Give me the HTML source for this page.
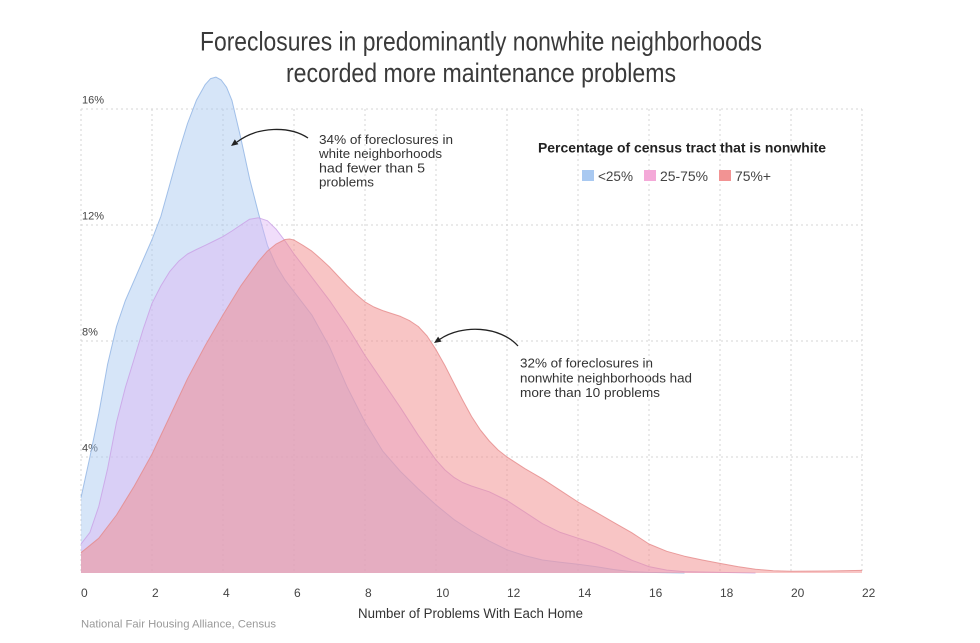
<!DOCTYPE html>
<html>
<head>
<meta charset="utf-8">
<style>
  html, body { margin: 0; padding: 0; background: #ffffff; }
  body { width: 980px; height: 643px; overflow: hidden; }
  svg { display: block; }
  text { font-family: "Liberation Sans", "DejaVu Sans", sans-serif; }
  .narrow { font-family: "Liberation Sans Narrow", "Liberation Sans", sans-serif; }
</style>
</head>
<body>
<svg width="980" height="643" viewBox="0 0 980 643" xmlns="http://www.w3.org/2000/svg">
  <rect x="0" y="0" width="980" height="643" fill="#ffffff"/>

  <!-- Title -->
  <text class="narrow" x="481" y="50.5" text-anchor="middle" font-size="27" fill="#3a3a3a" textLength="562" lengthAdjust="spacingAndGlyphs">Foreclosures in predominantly nonwhite neighborhoods</text>
  <text class="narrow" x="481" y="82" text-anchor="middle" font-size="27" fill="#3a3a3a" textLength="390" lengthAdjust="spacingAndGlyphs">recorded more maintenance problems</text>

  <!-- Grid -->
  <g stroke="#d6d6d6" stroke-width="1" stroke-dasharray="2 3" fill="none">
    <line x1="81" y1="109" x2="862" y2="109"/>
    <line x1="81" y1="225" x2="862" y2="225"/>
    <line x1="81" y1="341" x2="862" y2="341"/>
    <line x1="81" y1="457" x2="862" y2="457"/>
    <line x1="81" y1="109" x2="81" y2="573"/>
    <line x1="152" y1="109" x2="152" y2="573"/>
    <line x1="223" y1="109" x2="223" y2="573"/>
    <line x1="294" y1="109" x2="294" y2="573"/>
    <line x1="365" y1="109" x2="365" y2="573"/>
    <line x1="436" y1="109" x2="436" y2="573"/>
    <line x1="507" y1="109" x2="507" y2="573"/>
    <line x1="578" y1="109" x2="578" y2="573"/>
    <line x1="649" y1="109" x2="649" y2="573"/>
    <line x1="720" y1="109" x2="720" y2="573"/>
    <line x1="791" y1="109" x2="791" y2="573"/>
    <line x1="862" y1="109" x2="862" y2="573"/>
  </g>

  <!-- Y labels -->
  <g font-size="11" fill="#444">
    <text x="82" y="103.5">16%</text>
    <text x="82" y="219.5">12%</text>
    <text x="82" y="335.5">8%</text>
    <text x="82" y="451.5">4%</text>
  </g>

  <!-- Blue area (<25%) -->
  <path fill="#a8c8f0" fill-opacity="0.47" stroke="none"
    d="M81,573 L81,497.6 89.9,457 98.8,413.5 107.6,364.2 116.5,326.5 125.4,300.4 134.3,280.1 143.1,259.8 152,239.5 160.9,216.3 169.8,184.4 178.6,152.5 187.5,123.5 196.4,100.3 205.3,84.4 210.6,78.6 215.9,77.1 221.2,80 226.6,87.3 231.9,100.3 240.8,138 249.6,178.6 258.5,213.4 267.4,245.3 276.3,265.6 285.1,280.1 294,291.7 311.8,314.9 329.5,346.8 347.3,387.4 365,422.2 382.8,451.2 400.5,471.5 418.3,488.9 436,504.9 453.8,519.4 471.5,531 489.3,541.1 507,549.8 524.8,555.6 542.5,560 560.3,562.3 578,564.3 595.8,566.6 613.5,569.5 631.3,571.6 649,572.4 684.5,573 862,573 Z"/>
  <polyline fill="none" stroke="#8fb3e3" stroke-opacity="0.8" stroke-width="1" stroke-linejoin="round"
    points="81,497.6 89.9,457 98.8,413.5 107.6,364.2 116.5,326.5 125.4,300.4 134.3,280.1 143.1,259.8 152,239.5 160.9,216.3 169.8,184.4 178.6,152.5 187.5,123.5 196.4,100.3 205.3,84.4 210.6,78.6 215.9,77.1 221.2,80 226.6,87.3 231.9,100.3 240.8,138 249.6,178.6 258.5,213.4 267.4,245.3 276.3,265.6 285.1,280.1 294,291.7 311.8,314.9 329.5,346.8 347.3,387.4 365,422.2 382.8,451.2 400.5,471.5 418.3,488.9 436,504.9 453.8,519.4 471.5,531 489.3,541.1 507,549.8 524.8,555.6 542.5,560 560.3,562.3 578,564.3 595.8,566.6 613.5,569.5 631.3,571.6 649,572.4 684.5,573"/>

  <!-- Purple area (25-75%) -->
  <path fill="#deb3f3" fill-opacity="0.45" stroke="none"
    d="M81,573 L81,544 89.9,532.4 98.8,506.3 107.6,468.6 116.5,422.2 125.4,387.4 134.3,358.4 143.1,329.4 152,303.3 160.9,285.9 169.8,271.4 178.6,261.3 187.5,254 196.4,249.5 205.3,245.3 214.1,241 223,236.6 231.9,231 240.8,225 249.6,219.2 258.5,217.8 267.4,220.7 276.3,229.4 285.1,241 294,254 302.9,265.6 311.8,277.2 329.5,300.4 347.3,326.5 365,355.5 382.8,381.6 400.5,407.7 418.3,435.3 436,459.9 445,470 453.8,477.3 462.6,482.5 471.5,486 489.3,491.8 507,500.5 524.8,512.1 542.5,523.7 560.3,532.4 578,538.2 595.8,544 613.5,551.3 631.3,560 649,566.6 666.8,570.1 684.5,571.6 720,572.4 755.5,573 862,573 Z"/>
  <polyline fill="none" stroke="#c9a0e6" stroke-opacity="0.8" stroke-width="1" stroke-linejoin="round"
    points="81,544 89.9,532.4 98.8,506.3 107.6,468.6 116.5,422.2 125.4,387.4 134.3,358.4 143.1,329.4 152,303.3 160.9,285.9 169.8,271.4 178.6,261.3 187.5,254 196.4,249.5 205.3,245.3 214.1,241 223,236.6 231.9,231 240.8,225 249.6,219.2 258.5,217.8 267.4,220.7 276.3,229.4 285.1,241 294,254 302.9,265.6 311.8,277.2 329.5,300.4 347.3,326.5 365,355.5 382.8,381.6 400.5,407.7 418.3,435.3 436,459.9 445,470 453.8,477.3 462.6,482.5 471.5,486 489.3,491.8 507,500.5 524.8,512.1 542.5,523.7 560.3,532.4 578,538.2 595.8,544 613.5,551.3 631.3,560 649,566.6 666.8,570.1 684.5,571.6 720,572.4 755.5,573"/>

  <!-- Red area (75%+) -->
  <path fill="#f18b8b" fill-opacity="0.5" stroke="none"
    d="M81,573 L81,552.7 98.8,538.2 116.5,515 134.3,486 152,454.1 169.8,416.4 187.5,378.7 205.3,345.4 223,314.9 240.8,285.9 258.5,261.3 267.4,251.1 276.3,243.9 285.1,239.5 289.5,239 294,240 302.9,245.3 311.8,251.1 320.6,258.7 329.5,267 338.4,276.5 347.3,285.9 356.1,294.3 365,301.9 373.9,307 382.8,310.6 391.6,313.5 400.5,316.4 409.4,320.6 418.3,326.5 427.1,336 436,349.7 444.9,365.5 453.8,383 462.6,400 471.5,416.4 480.4,430 489.3,441 498.1,450 507,457 524.8,468.6 542.5,478.8 560.3,490.4 578,502 595.8,512.1 613.5,522.3 631.3,532.4 649,544 666.8,551.3 684.5,556.2 702.3,560 720,563.4 737.8,566.6 755.5,569.2 773.3,570.7 791,571.3 826.5,571 862,570.4 L862,573 Z"/>
  <polyline fill="none" stroke="#e58a8a" stroke-opacity="0.8" stroke-width="1" stroke-linejoin="round"
    points="81,552.7 98.8,538.2 116.5,515 134.3,486 152,454.1 169.8,416.4 187.5,378.7 205.3,345.4 223,314.9 240.8,285.9 258.5,261.3 267.4,251.1 276.3,243.9 285.1,239.5 289.5,239 294,240 302.9,245.3 311.8,251.1 320.6,258.7 329.5,267 338.4,276.5 347.3,285.9 356.1,294.3 365,301.9 373.9,307 382.8,310.6 391.6,313.5 400.5,316.4 409.4,320.6 418.3,326.5 427.1,336 436,349.7 444.9,365.5 453.8,383 462.6,400 471.5,416.4 480.4,430 489.3,441 498.1,450 507,457 524.8,468.6 542.5,478.8 560.3,490.4 578,502 595.8,512.1 613.5,522.3 631.3,532.4 649,544 666.8,551.3 684.5,556.2 702.3,560 720,563.4 737.8,566.6 755.5,569.2 773.3,570.7 791,571.3 826.5,571 862,570.4"/>

  <!-- X tick labels -->
  <g font-size="12" fill="#444">
    <text x="81" y="597">0</text>
    <text x="152" y="597">2</text>
    <text x="223" y="597">4</text>
    <text x="294" y="597">6</text>
    <text x="365" y="597">8</text>
    <text x="436" y="597">10</text>
    <text x="507" y="597">12</text>
    <text x="578" y="597">14</text>
    <text x="649" y="597">16</text>
    <text x="720" y="597">18</text>
    <text x="791" y="597">20</text>
    <text x="862" y="597">22</text>
  </g>

  <!-- Axis title -->
  <text x="470.5" y="618" text-anchor="middle" font-size="13.5" fill="#333" textLength="225" lengthAdjust="spacingAndGlyphs">Number of Problems With Each Home</text>

  <!-- Source -->
  <text x="81" y="627.5" font-size="11" fill="#999" textLength="195" lengthAdjust="spacingAndGlyphs">National Fair Housing Alliance, Census</text>

  <!-- Legend -->
  <text class="narrow" x="538" y="152.7" font-size="14" font-weight="bold" fill="#222" textLength="288" lengthAdjust="spacingAndGlyphs">Percentage of census tract that is nonwhite</text>
  <rect x="582" y="170" width="12" height="11" fill="#a9c9f1"/>
  <text x="598" y="181" font-size="13.5" fill="#444" textLength="35" lengthAdjust="spacingAndGlyphs">&lt;25%</text>
  <rect x="644" y="170" width="12" height="11" fill="#f4a9d8"/>
  <text x="660" y="181" font-size="13.5" fill="#444" textLength="48" lengthAdjust="spacingAndGlyphs">25-75%</text>
  <rect x="719" y="170" width="12" height="11" fill="#f29393"/>
  <text x="735" y="181" font-size="13.5" fill="#444" textLength="36" lengthAdjust="spacingAndGlyphs">75%+</text>

  <!-- Annotation 1 -->
  <g font-size="13" fill="#333">
    <text x="319" y="144" textLength="134" lengthAdjust="spacingAndGlyphs">34% of foreclosures in</text>
    <text x="319" y="158.2" textLength="123" lengthAdjust="spacingAndGlyphs">white neighborhoods</text>
    <text x="319" y="172.4" textLength="106" lengthAdjust="spacingAndGlyphs">had fewer than 5</text>
    <text x="319" y="186.6" textLength="55" lengthAdjust="spacingAndGlyphs">problems</text>
  </g>
  <path d="M308,138 C290,126 258,126 237,142" fill="none" stroke="#222" stroke-width="1.3"/>
  <polygon points="231,146 238.4,144.2 234.8,139.4" fill="#222"/>

  <!-- Annotation 2 -->
  <g font-size="13" fill="#333">
    <text x="520" y="367.3" textLength="133" lengthAdjust="spacingAndGlyphs">32% of foreclosures in</text>
    <text x="520" y="382.3" textLength="172" lengthAdjust="spacingAndGlyphs">nonwhite neighborhoods had</text>
    <text x="520" y="397" textLength="140" lengthAdjust="spacingAndGlyphs">more than 10 problems</text>
  </g>
  <path d="M518,346 C500,326 462,324 439.5,339.5" fill="none" stroke="#222" stroke-width="1.3"/>
  <polygon points="434,343 441.5,341.6 438.1,336.6" fill="#222"/>
</svg>
</body>
</html>
